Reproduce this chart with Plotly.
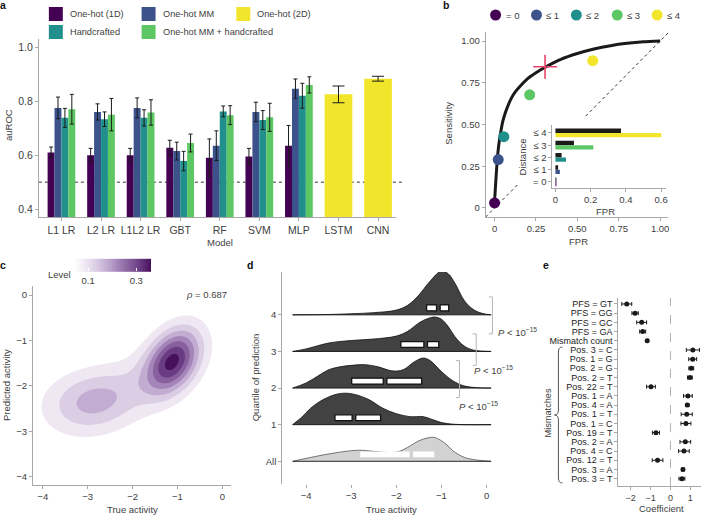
import numpy as np
import plotly.graph_objects as go

W, H = 706, 516
FONT = "Liberation Sans, Arial, sans-serif"
AX = "#a8a8a8"
TXT = "#404040"


def px(x):
    return x / W


def py(y):
    return 1 - y / H


# ---------------- a: auROC per model / feature set ----------------
models = ["L1 LR", "L2 LR", "L1L2 LR", "GBT", "RF", "SVM", "MLP", "LSTM", "CNN"]
feat_names = ["One-hot (1D)", "One-hot MM", "Handcrafted", "One-hot MM + handcrafted"]
feat_colors = ["#440154", "#3b528b", "#21908c", "#5dc863"]
color_2d = "#f2e62c"
auroc_onehot1d = [0.61, 0.60, 0.60, 0.627, 0.59, 0.595, 0.635]
err_onehot1d = [0.02, 0.025, 0.025, 0.028, 0.07, 0.03, 0.075]
auroc_onehotmm = [0.775, 0.76, 0.775, 0.615, 0.635, 0.76, 0.846]
err_onehotmm = [0.04, 0.03, 0.037, 0.033, 0.055, 0.036, 0.036]
auroc_hand = [0.738, 0.733, 0.738, 0.578, 0.762, 0.73, 0.82]
err_hand = [0.035, 0.027, 0.03, 0.036, 0.02, 0.035, 0.046]
auroc_mmhand = [0.77, 0.75, 0.758, 0.645, 0.748, 0.74, 0.86]
err_mmhand = [0.055, 0.06, 0.047, 0.033, 0.035, 0.052, 0.03]
auroc_onehot2d = [0.825, 0.883]
err_onehot2d = [0.031, 0.009]

# ---------------- b: ROC curve + distance points ----------------
roc_fpr = [0.0, 0.005, 0.01, 0.015, 0.02, 0.03, 0.04, 0.05, 0.065, 0.08, 0.1, 0.125,
           0.15, 0.2, 0.25, 0.3, 0.4, 0.5, 0.6, 0.7, 0.8, 0.9, 1.0]
roc_tpr = [0.04, 0.12, 0.2, 0.27, 0.33, 0.41, 0.47, 0.52, 0.57, 0.61, 0.655, 0.695,
           0.725, 0.775, 0.81, 0.84, 0.89, 0.925, 0.952, 0.972, 0.986, 0.995, 1.0]
dist_labels = ["= 0", "≤ 1", "≤ 2", "≤ 3", "≤ 4"]
dist_colors = ["#440154", "#3b528b", "#21908c", "#5dc863", "#f2e62c"]
dist_fpr = [0.0, 0.022, 0.056, 0.212, 0.593]
dist_tpr = [0.03, 0.29, 0.427, 0.678, 0.882]
thresh_fpr, thresh_tpr = 0.305, 0.846
inset_black = [0.001, 0.015, 0.035, 0.105, 0.372]
inset_color = [0.002, 0.025, 0.06, 0.215, 0.6]

# ---------------- c: 2D density (gaussian blobs) ----------------
kde_mu_x = [-1.1, -2.95, -2.0]
kde_mu_y = [-1.45, -2.35, -1.95]
kde_sd_x = [0.42, 0.72, 1.0]
kde_sd_y = [0.5, 0.48, 0.68]
kde_rho = [0.35, 0.1, 0.6]
kde_weight = [0.41, 0.29, 0.2]
rho_text = "0.687"

# ---------------- d: ridgelines per quartile ----------------
ridge_names = ["All", "1", "2", "3", "4"]
ridge_x = [
    [-4.3, -4.0, -3.5, -3.0, -2.75, -2.5, -2.0, -1.75, -1.5, -1.3, -1.15, -0.9, -0.75, -0.5, -0.25, 0.1],
    [-4.3, -4.1, -3.9, -3.6, -3.3, -3.1, -2.9, -2.6, -2.3, -2.0, -1.7, -1.4, -1.2, -1.0, -0.7, 0.1],
    [-4.3, -4.0, -3.75, -3.5, -3.25, -3.0, -2.7, -2.4, -2.1, -1.85, -1.6, -1.4, -1.25, -1.0, -0.75, -0.5, -0.2, 0.1],
    [-4.3, -4.0, -3.5, -3.0, -2.5, -2.0, -1.75, -1.5, -1.3, -1.15, -1.0, -0.85, -0.7, -0.5, -0.3, 0.1],
    [-4.3, -3.5, -3.0, -2.5, -2.0, -1.75, -1.5, -1.3, -1.0, -0.85, -0.7, -0.5, -0.3, -0.1, 0.1],
]
ridge_h = [
    [0, 0.08, 0.2, 0.29, 0.3, 0.27, 0.25, 0.38, 0.56, 0.64, 0.65, 0.47, 0.29, 0.11, 0.04, 0],
    [0, 0.2, 0.45, 0.7, 0.84, 0.86, 0.82, 0.68, 0.45, 0.3, 0.22, 0.22, 0.14, 0.06, 0.01, 0],
    [0, 0.14, 0.32, 0.5, 0.58, 0.62, 0.64, 0.58, 0.47, 0.5, 0.72, 0.82, 0.75, 0.45, 0.2, 0.06, 0.01, 0],
    [0, 0.07, 0.23, 0.3, 0.34, 0.42, 0.55, 0.78, 0.9, 0.94, 0.88, 0.68, 0.4, 0.15, 0.04, 0],
    [0, 0.01, 0.03, 0.06, 0.13, 0.26, 0.54, 0.85, 1.2, 1.12, 0.86, 0.4, 0.15, 0.04, 0],
]
box_q1 = [-2.8, -3.36, -2.99, -1.9, -1.33]
box_med = [-1.67, -2.94, -2.25, -1.35, -1.07]
box_q3 = [-1.16, -2.35, -1.44, -1.06, -0.84]
bracket_x = [0.13, -0.23, -0.6]
bracket_lo = [3.48, 2.62, 1.74]
bracket_hi = [4.49, 3.48, 2.75]

# ---------------- e: regression coefficients ----------------
coef_labels = ["PFS = GT", "PFS = GG", "PFS = GC", "PFS = GA", "Mismatch count",
               "Pos. 3 = C", "Pos. 1 = G", "Pos. 2 = G", "Pos. 2 = T", "Pos. 22 = T",
               "Pos. 1 = A", "Pos. 4 = A", "Pos. 1 = T", "Pos. 1 = C", "Pos. 19 = T",
               "Pos. 2 = A", "Pos. 4 = C", "Pos. 12 = T", "Pos. 3 = A", "Pos. 3 = T"]
coef = [-2.2, -1.78, -1.45, -1.4, -1.17, 1.13, 1.12, 1.05, 0.98, -0.98,
        0.88, 0.85, 0.82, 0.78, -0.73, 0.75, 0.68, -0.65, 0.63, 0.58]
coef_err = [0.25, 0.16, 0.25, 0.15, 0.05, 0.33, 0.2, 0.12, 0.12, 0.22,
            0.22, 0.08, 0.28, 0.25, 0.18, 0.27, 0.27, 0.27, 0.07, 0.15]

fig = go.Figure()

# a ---------------------------------------------------------------
series = [auroc_onehot1d, auroc_onehotmm, auroc_hand, auroc_mmhand]
errors = [err_onehot1d, err_onehotmm, err_hand, err_mmhand]
for i in range(4):
    fig.add_trace(go.Bar(
        x=models[:7], y=series[i], width=0.175, offset=-0.35 + i * 0.175,
        marker=dict(color=feat_colors[i], line_width=0),
        error_y=dict(type="data", array=errors[i], color="#1a1a1a", thickness=1, width=2),
        xaxis="x", yaxis="y", showlegend=False))
fig.add_trace(go.Bar(
    x=models[7:], y=auroc_onehot2d, width=0.7, offset=-0.35,
    marker=dict(color=color_2d, line_width=0),
    error_y=dict(type="data", array=err_onehot2d, color="#1a1a1a", thickness=1, width=6),
    xaxis="x", yaxis="y", showlegend=False))

# b ---------------------------------------------------------------
fig.add_trace(go.Scatter(x=[-0.054, 0.14, None, 0.55, 1.05], y=[-0.054, 0.14, None, 0.55, 1.05],
                         mode="lines", line=dict(color="#333", width=1, dash="dot"),
                         xaxis="x2", yaxis="y2", showlegend=False, hoverinfo="skip"))
fig.add_trace(go.Scatter(x=roc_fpr, y=roc_tpr, mode="lines",
                         line=dict(color="#1a1a1a", width=3, shape="spline", smoothing=0.6),
                         xaxis="x2", yaxis="y2", showlegend=False))
fig.add_trace(go.Scatter(x=dist_fpr, y=dist_tpr, mode="markers",
                         marker=dict(color=dist_colors, size=11, line_width=0),
                         xaxis="x2", yaxis="y2", showlegend=False, cliponaxis=False))
fig.add_trace(go.Scatter(x=[thresh_fpr], y=[thresh_tpr], mode="markers",
                         marker=dict(symbol="cross-thin", size=17,
                                     line=dict(color="#e8436a", width=1.6)),
                         xaxis="x2", yaxis="y2", showlegend=False))
# inset
fig.add_trace(go.Bar(y=dist_labels, x=inset_black, orientation="h", width=0.36, offset=0,
                     marker=dict(color="#1a1a1a", line_width=0),
                     xaxis="x3", yaxis="y3", showlegend=False))
fig.add_trace(go.Bar(y=dist_labels, x=inset_color, orientation="h", width=0.36, offset=-0.36,
                     marker=dict(color=dist_colors, line_width=0),
                     xaxis="x3", yaxis="y3", showlegend=False))

# c ---------------------------------------------------------------
purples = [[0, "#ffffff"], [0.143, "#efe8f3"], [0.286, "#dbcde4"], [0.43, "#c2acd2"],
           [0.571, "#a585b9"], [0.714, "#87609d"], [0.857, "#693c82"], [1, "#47105a"]]
gx = np.linspace(-4.22, 0.2, 170)
gy = np.linspace(-4.18, 0.2, 170)
GX, GY = np.meshgrid(gx, gy)
dens = np.zeros_like(GX)
for mx, my, sx, sy, r, w in zip(kde_mu_x, kde_mu_y, kde_sd_x, kde_sd_y, kde_rho, kde_weight):
    u = (GX - mx) / sx
    v = (GY - my) / sy
    q = (u ** 2 - 2 * r * u * v + v ** 2) / (1 - r ** 2)
    dens += w * np.exp(-q / 2) / (2 * np.pi * sx * sy * np.sqrt(1 - r ** 2))
fig.add_trace(go.Contour(x=gx, y=gy, z=dens, colorscale=purples, showscale=False,
                         contours=dict(start=0.05, end=0.35, size=0.05, coloring="fill",
                                       showlines=False),
                         line_width=0, xaxis="x4", yaxis="y4", hoverinfo="skip"))
fig.add_trace(go.Scatter(
    x=[None], y=[None], mode="markers", xaxis="x4", yaxis="y4", showlegend=False,
    marker=dict(color=[0.2], cmin=0.04, cmax=0.36, colorscale=purples, showscale=True,
                colorbar=dict(orientation="h", x=px(112.5), xanchor="center",
                              y=py(273.5), yanchor="middle", len=77, lenmode="pixels",
                              thickness=13, outlinewidth=0, xpad=0, ypad=0,
                              tickvals=[0.1, 0.3], ticktext=["0.1", "0.3"],
                              ticks="inside", ticklen=3, tickcolor="white",
                              tickfont=dict(size=9.5, color=TXT)))))

# d ---------------------------------------------------------------
for k in range(5):
    xs = ridge_x[k]
    base = [k, k]
    fill = "#d2d2d2" if k == 0 else "#424242"
    edge = "#555555" if k == 0 else "#111111"
    fig.add_trace(go.Scatter(x=[xs[0], xs[-1]], y=base, mode="lines", line=dict(width=0),
                             xaxis="x5", yaxis="y5", showlegend=False, hoverinfo="skip"))
    fig.add_trace(go.Scatter(x=xs, y=[k + h for h in ridge_h[k]], mode="lines", fill="tonexty",
                             fillcolor=fill, line=dict(color=edge, width=0.8, shape="spline",
                                                       smoothing=1.0),
                             xaxis="x5", yaxis="y5", showlegend=False))
    fig.add_trace(go.Scatter(x=[xs[0], xs[-1]], y=base, mode="lines",
                             line=dict(color="#111111", width=0.9),
                             xaxis="x5", yaxis="y5", showlegend=False, hoverinfo="skip"))
    lo, hi, gap = k + 0.11, k + 0.27, 0.04
    for a, b in [(box_q1[k], box_med[k] - gap), (box_med[k] + gap, box_q3[k])]:
        fig.add_trace(go.Scatter(x=[a, b, b, a, a], y=[lo, lo, hi, hi, lo], mode="lines",
                                 fill="toself", fillcolor="white",
                                 line=dict(color="white" if k == 0 else "#111111",
                                           width=0 if k == 0 else 1.3),
                                 xaxis="x5", yaxis="y5", showlegend=False, hoverinfo="skip"))

# e ---------------------------------------------------------------
fig.add_trace(go.Scatter(x=coef, y=coef_labels, mode="markers",
                         marker=dict(color="#1a1a1a", size=5),
                         error_x=dict(type="data", array=coef_err, color="#1a1a1a",
                                      thickness=1, width=2),
                         xaxis="x6", yaxis="y6", showlegend=False))


def axis(domain, rng, anchor, **kw):
    d = dict(domain=domain, range=rng, anchor=anchor, showline=True, linecolor=AX,
             linewidth=1, ticks="outside", ticklen=3, tickcolor=AX, tickwidth=1,
             showgrid=False, zeroline=False, tickfont=dict(size=9.5, color=TXT, family=FONT),
             fixedrange=True)
    d.update(kw)
    return d


shapes = []
annotations = []


def label(x, y, text, size=9.5, angle=0, anchor="center", color=TXT, **kw):
    annotations.append(dict(x=px(x), y=py(y), xref="paper", yref="paper", text=text,
                            showarrow=False, textangle=angle, xanchor=anchor, yanchor="middle",
                            font=dict(size=size, color=color, family=FONT), **kw))


# reference line at auROC 0.5
shapes.append(dict(type="line", xref="x domain", yref="y", x0=0, x1=1.02, y0=0.5, y1=0.5,
                   line=dict(color="#333", width=1, dash="dot"), layer="below"))
# zero line in e
shapes.append(dict(type="line", xref="x6", yref="y6 domain", x0=0, x1=0, y0=0, y1=1,
                   line=dict(color="#b0b0b0", width=1, dash="dash"), layer="below"))

# legend a
leg_a = [(49, 14, 0), (142, 14, 1), (237, 14, None), (49, 32, 2), (142, 32, 3)]
for x0, yc, idx in leg_a:
    col = color_2d if idx is None else feat_colors[idx]
    name = "One-hot (2D)" if idx is None else feat_names[idx]
    shapes.append(dict(type="rect", xref="paper", yref="paper", x0=px(x0), x1=px(x0 + 14),
                       y0=py(yc + 7), y1=py(yc - 7), fillcolor=col, line_width=0))
    label(x0 + 19, yc, name, size=9.2, anchor="left")

# legend b
for cx, name, col in zip([497, 538, 578, 619, 659], dist_labels, dist_colors):
    shapes.append(dict(type="circle", xref="paper", yref="paper", x0=px(cx - 5.5),
                       x1=px(cx + 5.5), y0=py(15 + 5.5), y1=py(15 - 5.5), fillcolor=col,
                       line_width=0))
    label(cx + 8, 15, name, size=9.5, anchor="left")

# brackets in d
for bx, lo, hi in zip(bracket_x, bracket_lo, bracket_hi):
    for (x0, y0, x1, y1) in [(bx, lo, bx, hi), (bx - 0.08, lo, bx, lo), (bx - 0.08, hi, bx, hi)]:
        shapes.append(dict(type="line", xref="x5", yref="y5", x0=x0, y0=y0, x1=x1, y1=y1,
                           line=dict(color="#b5b5b5", width=1)))
pval = "<i>P</i> < 10<sup>−15</sup>"
for x, y in [(497, 332), (473, 370), (458, 406)]:
    label(x, y, pval, size=9.5, anchor="left")

# brace in e
brace = [(564, 347), (560, 347), (560, 352), (560, 410), (560, 415), (556, 415),
         (560, 415), (560, 420), (560, 478), (560, 483), (564, 483)]
P = [f"{px(a):.5f},{py(b):.5f}" for a, b in brace]
path = (f"M {P[0]} Q {P[1]} {P[2]} L {P[3]} Q {P[4]} {P[5]} "
        f"Q {P[6]} {P[7]} L {P[8]} Q {P[9]} {P[10]}")
shapes.append(dict(type="path", xref="paper", yref="paper", path=path,
                   line=dict(color="#555", width=1)))

# panel letters
for x, y, t in [(3, 5, "a"), (447, 5, "b"), (3, 265, "c"), (251, 265, "d"), (548, 265, "e")]:
    label(x, y, f"<b>{t}</b>", size=10.5, color="#111")

# axis titles
label(8, 125, "auROC", angle=-90)
label(221, 243, "Model")
label(450, 123, "Sensitivity", angle=-90)
label(580, 242, "FPR")
label(523, 157, "Distance", angle=-90)
label(607, 211, "FPR")
label(60, 274, "Level")
label(230, 294, f"<i>ρ</i> = {rho_text}", anchor="right")
label(6, 385, "Predicted activity", angle=-90)
label(133, 509, "True activity")
label(256, 377, "Quartile of prediction", angle=-90)
label(393, 509, "True activity")
label(663, 508, "Coefficient")
label(550, 413, "Mismatches", angle=-90, size=9.2)

fig.update_layout(
    width=W, height=H, margin=dict(l=0, r=0, t=0, b=0),
    paper_bgcolor="white", plot_bgcolor="white", showlegend=False,
    font=dict(family=FONT, size=9.5, color=TXT), barmode="overlay",
    xaxis=axis([px(39), px(397)], [-0.57, 8.45], "y", tickfont=dict(size=10.5, color=TXT)),
    yaxis=axis([py(217), py(39)], [0.371, 1.03], "x", tickvals=[0.4, 0.6, 0.8, 1.0],
               ticktext=["0.4", "0.6", "0.8", "1.0"], tickfont=dict(size=10.5, color=TXT)),
    xaxis2=axis([px(487), px(670)], [-0.054, 1.048], "y2", tickvals=[0, 0.25, 0.5, 0.75, 1],
                ticktext=["0", "0.25", "0.50", "0.75", "1.00"]),
    yaxis2=axis([py(217), py(32)], [-0.054, 1.054], "x2", tickvals=[0, 0.25, 0.5, 0.75, 1],
                ticktext=["0", "0.25", "0.50", "0.75", "1.00"]),
    xaxis3=axis([px(554), px(668)], [-0.017, 0.628], "y3", tickvals=[0, 0.2, 0.4, 0.6],
                ticktext=["0", "0.2", "0.4", "0.6"]),
    yaxis3=axis([py(188), py(125)], [-0.5, 4.65], "x3", categoryorder="array",
                categoryarray=dist_labels, tickmode="array", tickvals=dist_labels),
    xaxis4=axis([px(33), px(232)], [-4.22, 0.2], "y4", tickvals=[-4, -3, -2, -1, 0]),
    yaxis4=axis([py(485), py(286)], [-4.18, 0.2], "x4", tickvals=[-4, -3, -2, -1, 0]),
    xaxis5=axis([px(283), px(495)], [-4.53, 0.155], "y5", tickvals=[-4, -3, -2, -1, 0],
                showline=False),
    yaxis5=axis([py(484), py(272)], [-0.62, 5.17], "x5", tickvals=[0, 1, 2, 3, 4],
                ticktext=ridge_names),
    xaxis6=axis([px(620), px(703)], [-2.63, 1.54], "y6", tickvals=[-2, -1, 0, 1],
                tickfont=dict(size=9, color=TXT)),
    yaxis6=axis([py(486), py(298)], [19.8, -0.65], "x6", categoryorder="array",
                categoryarray=coef_labels, tickmode="array", tickvals=coef_labels,
                tickfont=dict(size=9, color="#222")),
    shapes=shapes, annotations=annotations,
)

fig.write_html("out.html", config={"displayModeBar": False},
               post_script="document.body.style.margin='0';")
